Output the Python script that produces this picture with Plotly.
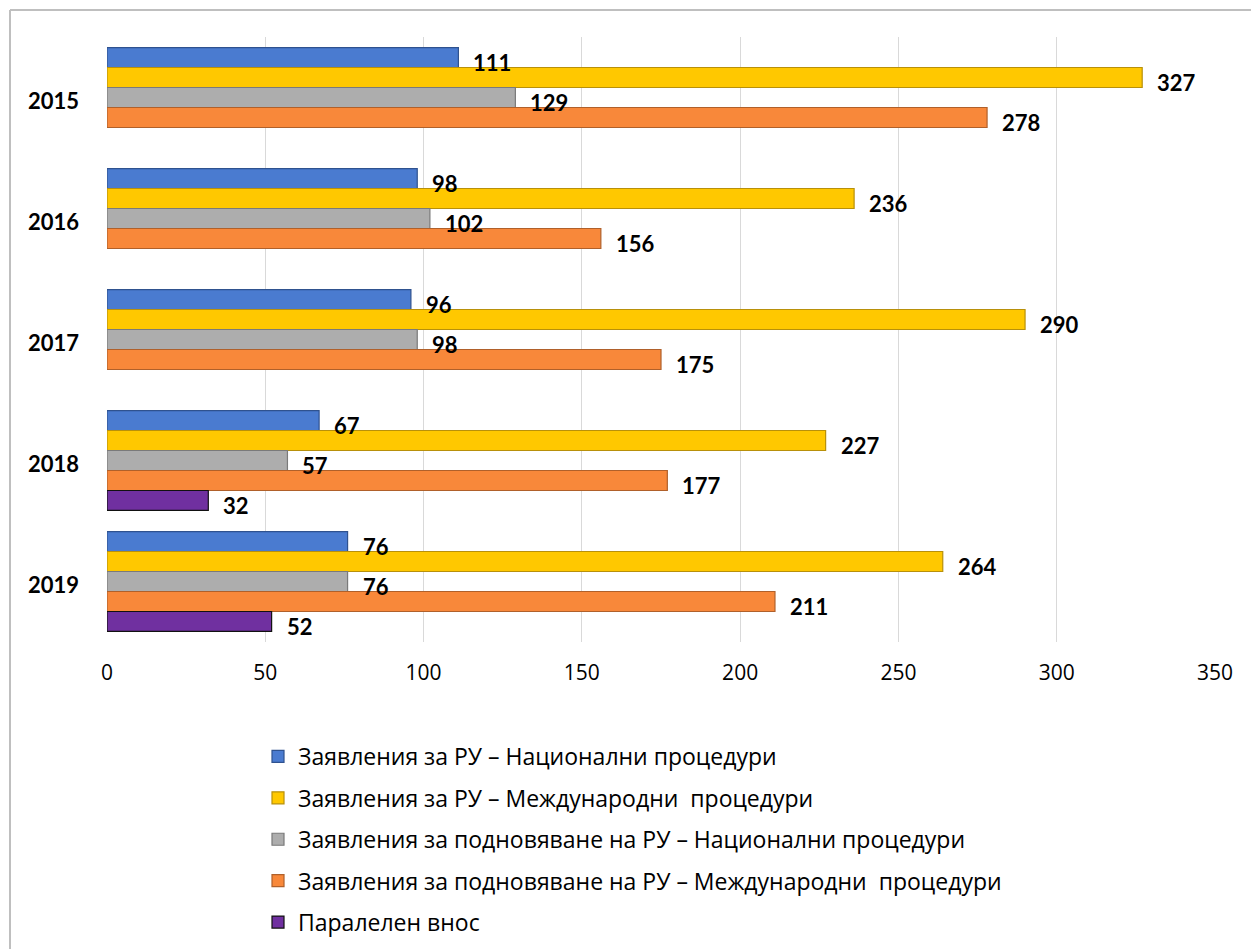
import plotly.graph_objects as go

# Data
years = ["2015", "2016", "2017", "2018", "2019"]
series_names = [
    "Заявления за РУ – Национални процедури",
    "Заявления за РУ – Международни  процедури",
    "Заявления за подновяване на РУ – Национални процедури",
    "Заявления за подновяване на РУ – Международни  процедури",
    "Паралелен внос",
]
ru_national = [111, 98, 96, 67, 76]
ru_international = [327, 236, 290, 227, 264]
renewal_national = [129, 102, 98, 57, 76]
renewal_international = [278, 156, 175, 177, 211]
parallel_import = [None, None, None, 32, 52]
x_ticks = [0, 50, 100, 150, 200, 250, 300, 350]

all_series = [ru_national, ru_international, renewal_national,
              renewal_international, parallel_import]

# Styling
fills = ["#4A7BD0", "#FFC800", "#ADADAD", "#F8883A", "#7030A0"]
edges = ["#2F528F", "#B8900A", "#7A7A7A", "#B0602A", "#111111"]
BOLD_FONT = "Lato, 'Open Sans', sans-serif"
TEXT_FONT = "'Open Sans', Roboto, sans-serif"

W, H = 1251, 949
M_L, M_R, M_T, M_B = 107, 36, 37, 307
BARGAP = 0.174
plot_h = H - M_T - M_B
cat_h = plot_h / len(years)
slot = cat_h * (1 - BARGAP) / len(all_series)

fig = go.Figure()
for i, (name, vals) in enumerate(zip(series_names, all_series)):
    fig.add_trace(go.Bar(
        y=years, x=vals, name=name, orientation="h",
        marker=dict(color=fills[i], line=dict(color=edges[i], width=1.2)),
        legendgroup=f"g{i}",
    ))

# Value labels to the right of each bar end (y given as category index)
annotations = []
for i, vals in enumerate(all_series):
    for k, v in enumerate(vals):
        if v is None:
            continue
        annotations.append(dict(
            x=v, y=k, xref="x", yref="y", text=f"<b>{v}</b>",
            showarrow=False, xanchor="left", yanchor="middle",
            xshift=13, yshift=-((i - 2) * slot + 5),
            font=dict(family=BOLD_FONT, size=22, color="#000000"),
        ))

# Outer frame (left and top edges)
def px_x(px):
    return (px - M_L) / (W - M_L - M_R)

def px_y(py):
    return 1 - (py - M_T) / plot_h

frame_color = "#BFBFBF"
shapes = [
    dict(type="line", xref="paper", yref="paper",
         x0=px_x(10), x1=px_x(10), y0=px_y(10), y1=px_y(H + 5),
         line=dict(color=frame_color, width=2)),
    dict(type="line", xref="paper", yref="paper",
         x0=px_x(10), x1=px_x(W + 5), y0=px_y(10), y1=px_y(10),
         line=dict(color=frame_color, width=2)),
]

fig.update_layout(
    width=W, height=H,
    margin=dict(l=M_L, r=M_R, t=M_T, b=M_B, autoexpand=False),
    paper_bgcolor="white", plot_bgcolor="white",
    barmode="group", bargap=BARGAP, bargroupgap=0,
    annotations=annotations, shapes=shapes,
    showlegend=True,
    legend=dict(
        orientation="v", x=px_x(258), y=px_y(735), xanchor="left", yanchor="top",
        font=dict(family=TEXT_FONT, size=23, color="#000000"),
        tracegroupgap=8.5, itemwidth=30, traceorder="grouped",
        bgcolor="rgba(0,0,0,0)",
    ),
    xaxis=dict(
        range=[0, 350], tickvals=x_ticks, showgrid=True, gridcolor="#D9D9D9",
        gridwidth=1, zeroline=False, showline=False, ticks="",
        tickfont=dict(family=TEXT_FONT, size=21, color="#000000"),
        ticklabelstandoff=16,
    ),
    yaxis=dict(
        type="category", categoryorder="array", categoryarray=years,
        range=[len(years) - 0.5, -0.5], showgrid=False, zeroline=False,
        showline=False, ticks="", ticklabelstandoff=27, ticklabelshift=-4,
        tickfont=dict(family=BOLD_FONT, size=22, color="#000000"),
        tickprefix="<b>", ticksuffix="</b>",
    ),
)

fig.write_html("out.html")
